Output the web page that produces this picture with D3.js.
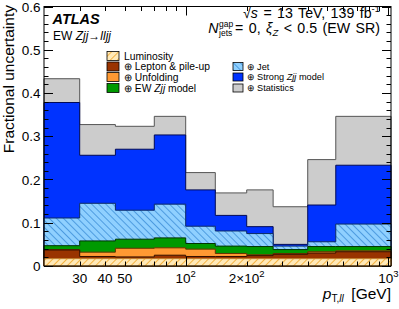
<!DOCTYPE html>
<html>
<head>
<meta charset="utf-8">
<script src="https://cdn.jsdelivr.net/npm/d3@7"></script>
<style>
  body { margin: 0; background: #fff; }
  svg { display: block; font-family: "Liberation Sans", Arial, sans-serif; }
</style>
</head>
<body>
<div id="chart"></div>
<script>
// bin edges in GeV
var binEdges = [20, 30, 45, 70, 100, 140, 200, 270, 400, 550, 1030];

// cumulative (quadrature-summed) uncertainty per bin
var lumi    = [0.017, 0.017, 0.017, 0.017, 0.017, 0.017, 0.017, 0.017, 0.017, 0.017];
var lepton  = [0.037, 0.022, 0.021, 0.025, 0.022, 0.022, 0.024, 0.027, 0.030, 0.033];
var unfold  = [0.038, 0.032, 0.041, 0.042, 0.039, 0.029, 0.026, 0.029, 0.033, 0.035];
var ewModel = [0.047, 0.058, 0.062, 0.065, 0.052, 0.046, 0.045, 0.038, 0.045, 0.045];
var jet     = [0.111, 0.145, 0.129, 0.143, 0.092, 0.081, 0.075, 0.046, 0.056, 0.097];
var strong  = [0.378, 0.256, 0.270, 0.303, 0.176, 0.117, 0.091, 0.050, 0.141, 0.233];
var stats   = [0.433, 0.327, 0.323, 0.346, 0.216, 0.169, 0.176, 0.137, 0.246, 0.346];

var xTickLabels = [30, 40, 50, 100, 200, 1000];
var yTicks = [0, 0.1, 0.2, 0.3, 0.4, 0.5, 0.6];

(function () {
    "use strict";

    var W = 399, H = 309;
    var pLeft = 44, pRight = 391, pTop = 6.5, pBottom = 266;

    var svg = d3.select("#chart").append("svg")
        .attr("width", W).attr("height", H);

    var defs = svg.append("defs");
    // luminosity hatch
    var p1 = defs.append("pattern").attr("id", "hLumi")
        .attr("patternUnits", "userSpaceOnUse").attr("width", 5).attr("height", 5)
        .attr("patternTransform", "rotate(45)");
    p1.append("rect").attr("width", 5).attr("height", 5).attr("fill", "#ffe9b8");
    p1.append("line").attr("x1", 0).attr("y1", 0).attr("x2", 0).attr("y2", 5)
        .attr("stroke", "#f5b342").attr("stroke-width", 2);
    // jet hatch
    var p2 = defs.append("pattern").attr("id", "hJet")
        .attr("patternUnits", "userSpaceOnUse").attr("width", 5).attr("height", 5)
        .attr("patternTransform", "rotate(-45)");
    p2.append("rect").attr("width", 5).attr("height", 5).attr("fill", "#8fd0ff");
    p2.append("line").attr("x1", 0).attr("y1", 0).attr("x2", 0).attr("y2", 5)
        .attr("stroke", "#3d8fd8").attr("stroke-width", 1.6);

    var x = d3.scaleLog().domain([20, 1030]).range([pLeft, pRight]);
    var y = d3.scaleLinear().domain([0, 0.6]).range([pBottom, pTop]);

    var layers = [
        {vals: stats,   fill: "#cccccc", stroke: "#555555"},
        {vals: strong,  fill: "#0033ff", stroke: "#000a55"},
        {vals: jet,     fill: "url(#hJet)", stroke: "#0b2a66"},
        {vals: ewModel, fill: "#009900", stroke: "#003300"},
        {vals: unfold,  fill: "#ff9933", stroke: "#663300"},
        {vals: lepton,  fill: "#993300", stroke: "#331100"},
        {vals: lumi,    fill: "url(#hLumi)", stroke: "#c08030"}
    ];

    var line = d3.line();
    layers.forEach(function (L) {
        var pts = [[x(binEdges[0]), y(0)]];
        L.vals.forEach(function (v, i) {
            pts.push([x(binEdges[i]), y(v)]);
            pts.push([x(binEdges[i + 1]), y(v)]);
        });
        pts.push([x(binEdges[binEdges.length - 1]), y(0)]);
        svg.append("path").attr("d", line(pts) + "Z")
            .attr("fill", L.fill).attr("stroke", L.stroke).attr("stroke-width", 1);
    });

    // ticks
    var tg = svg.append("g").attr("stroke", "#000").attr("stroke-width", 1);
    d3.range(0, 0.601, 0.02).forEach(function (v) {
        var major = Math.abs(Math.round(v * 10) - v * 10) < 1e-6;
        var len = major ? 9 : 4.5;
        var yy = Math.round(y(v)) + 0.5;
        tg.append("line").attr("x1", pLeft).attr("x2", pLeft + len).attr("y1", yy).attr("y2", yy);
        tg.append("line").attr("x1", pRight).attr("x2", pRight - len).attr("y1", yy).attr("y2", yy);
    });
    var xMinor = [];
    [10, 100].forEach(function (d) { for (var k = 1; k < 10; k++) xMinor.push(k * d); });
    xMinor.push(1000);
    xMinor.filter(function (v) { return v > 20 && v <= 1030; }).forEach(function (v) {
        var major = (v === 100 || v === 1000);
        var len = major ? 9 : 4.5;
        var xx = Math.round(x(v)) + 0.5;
        tg.append("line").attr("x1", xx).attr("x2", xx).attr("y1", pBottom).attr("y2", pBottom - len);
        tg.append("line").attr("x1", xx).attr("x2", xx).attr("y1", pTop).attr("y2", pTop + len);
    });

    // frame
    svg.append("rect").attr("x", pLeft).attr("y", pTop)
        .attr("width", pRight - pLeft).attr("height", pBottom - pTop)
        .attr("fill", "none").attr("stroke", "#000").attr("stroke-width", 1);

    // y tick labels
    svg.append("g").selectAll("text").data(yTicks).join("text")
        .attr("x", 40.5).attr("y", function (d) { return y(d) + 5; })
        .attr("text-anchor", "end").attr("font-size", 13.5)
        .text(function (d) { return d === 0 ? "0" : d3.format(".1f")(d); });

    // x tick labels
    var xl = svg.append("g").attr("font-size", 13.5);
    xTickLabels.forEach(function (v) {
        var t = xl.append("text").attr("x", x(v)).attr("y", 283).attr("text-anchor", "middle");
        if (v < 100) { t.text(v); }
        else {
            var pre = v === 200 ? "2\u00d710" : "10";
            var e = v === 1000 ? "3" : "2";
            t.append("tspan").text(pre);
            t.append("tspan").attr("font-size", 9.5).attr("dy", -6).text(e);
        }
    });

    // axis titles
    svg.append("text").attr("transform", "translate(13.5,5) rotate(-90)")
        .attr("text-anchor", "end").attr("font-size", 15.5).text("Fractional uncertainty");

    var xt = svg.append("text").attr("x", 391).attr("y", 299).attr("text-anchor", "end")
        .attr("font-size", 15.5);
    xt.append("tspan").attr("font-style", "italic").text("p");
    xt.append("tspan").attr("font-size", 10).attr("dy", 3).text("T,");
    xt.append("tspan").attr("font-size", 10).attr("font-style", "italic").text("ll");
    xt.append("tspan").attr("dy", -3).text("\u2002[GeV]");

    // ATLAS label
    svg.append("text").attr("x", 52.5).attr("y", 23.5).attr("font-size", 14.5)
        .attr("font-weight", "bold").attr("font-style", "italic").text("ATLAS");
    var ew = svg.append("text").attr("x", 53).attr("y", 40).attr("font-size", 12);
    ew.append("tspan").text("EW ");
    ew.append("tspan").attr("font-style", "italic").text("Zjj");
    ew.append("tspan").text("\u2192");
    ew.append("tspan").attr("font-style", "italic").text("lljj");

    // top right text
    var s1 = svg.append("text").attr("x", 380).attr("y", 18).attr("text-anchor", "end")
        .attr("font-size", 14.2).attr("word-spacing", 1.5);
    s1.append("tspan").text("\u221a");
    s1.append("tspan").attr("font-style", "italic").text("s");
    s1.append("tspan").text(" = 13 TeV, 139 fb");
    s1.append("tspan").attr("font-size", 9.5).attr("dy", -6).text("-1");

    var s2 = svg.append("g");
    var s2t = s2.append("text").attr("x", 0).attr("y", 0).attr("font-size", 14.2);
    s2t.append("tspan").attr("font-style", "italic").text("N");
    var nW = s2t.node().getComputedTextLength();
    s2.append("text").attr("x", nW + 0.5).attr("y", -6.5).attr("font-size", 8.5).text("gap");
    s2.append("text").attr("x", nW + 0.5).attr("y", 3).attr("font-size", 8.5).text("jets");
    var s2r = s2.append("text").attr("x", nW + 16.5).attr("y", 0).attr("font-size", 14.2)
        .attr("word-spacing", 1.5);
    s2r.append("tspan").text(" = 0, ");
    s2r.append("tspan").attr("font-style", "italic").text("\u03be");
    s2r.append("tspan").attr("font-style", "italic").attr("font-size", 9.5).attr("dy", 3).text("Z");
    s2r.append("tspan").attr("dy", -3).text(" < 0.5 (EW SR)");
    var totalW = nW + 16.5 + s2r.node().getComputedTextLength();
    s2.attr("transform", "translate(" + (380 - totalW) + ",33)");

    // legend: two blocks with slightly different sizes
    var legend = [
        {col: 0, row: 0, fill: "url(#hLumi)", parts: [["Luminosity", false]]},
        {col: 0, row: 1, fill: "#993300", parts: [["\u2295 Lepton & pile-up", false]]},
        {col: 0, row: 2, fill: "#ff9933", parts: [["\u2295 Unfolding", false]]},
        {col: 0, row: 3, fill: "#009900", parts: [["\u2295 EW ", false], ["Zjj", true], [" model", false]]},
        {col: 1, row: 1, fill: "url(#hJet)", parts: [["\u2295 Jet", false]]},
        {col: 1, row: 2, fill: "#0033ff", parts: [["\u2295 Strong ", false], ["Zjj", true], [" model", false]]},
        {col: 1, row: 3, fill: "#cccccc", parts: [["\u2295 Statistics", false]]}
    ];
    var colX = [107, 233], rowY = [56, 66.5, 77, 88];
    var boxW = [12, 10], boxH = [9, 8], txtX = [124, 246.5], fs = [10.3, 9.2];
    legend.forEach(function (d) {
        var bx = colX[d.col], by = rowY[d.row], c = d.col;
        svg.append("rect").attr("x", bx).attr("y", by - boxH[c] / 2).attr("width", boxW[c]).attr("height", boxH[c])
            .attr("fill", d.fill).attr("stroke", "#000").attr("stroke-width", 0.8);
        var t = svg.append("text").attr("x", txtX[c]).attr("y", by + fs[c] * 0.36).attr("font-size", fs[c]);
        d.parts.forEach(function (p) {
            t.append("tspan").attr("font-style", p[1] ? "italic" : null).text(p[0]);
        });
    });
}());
</script>
</body>
</html>
